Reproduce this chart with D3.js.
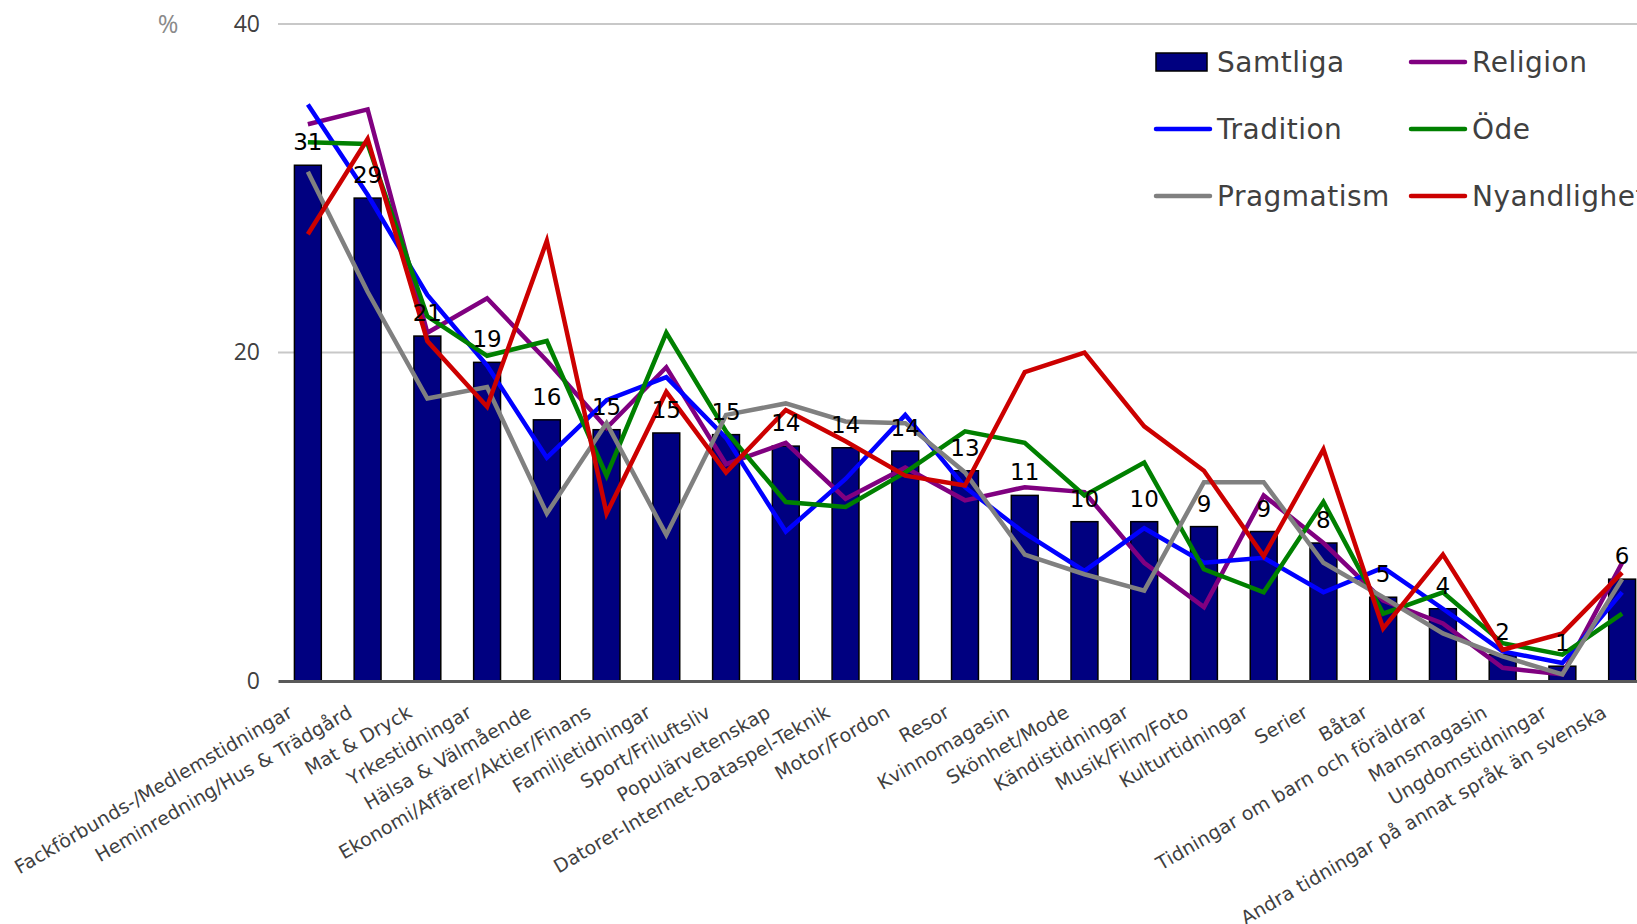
<!DOCTYPE html>
<html>
<head>
<meta charset="utf-8">
<script src="https://cdn.jsdelivr.net/npm/d3@7"></script>
<style>
  html, body { margin: 0; padding: 0; background: #fff; overflow: hidden; }
  svg { display: block; }
</style>
</head>
<body>
<div id="chart"></div>
<script>
// categories and series
var categories = [
  "Fackförbunds-/Medlemstidningar", "Heminredning/Hus & Trädgård", "Mat & Dryck",
  "Yrkestidningar", "Hälsa & Välmående", "Ekonomi/Affärer/Aktier/Finans",
  "Familjetidningar", "Sport/Friluftsliv", "Populärvetenskap",
  "Datorer-Internet-Dataspel-Teknik", "Motor/Fordon", "Resor", "Kvinnomagasin",
  "Skönhet/Mode", "Kändistidningar", "Musik/Film/Foto", "Kulturtidningar",
  "Serier", "Båtar", "Tidningar om barn och föräldrar", "Mansmagasin",
  "Ungdomstidningar", "Andra tidningar på annat språk än svenska"
];
var samtliga    = [31.4, 29.4, 21.0, 19.4, 15.9, 15.3, 15.1, 15.0, 14.3, 14.2, 14.0, 12.8, 11.3, 9.7, 9.7, 9.4, 9.1, 8.4, 5.1, 4.4, 1.6, 0.9, 6.2];
var religion    = [33.9, 34.8, 21.2, 23.3, 19.5, 15.4, 19.1, 13.2, 14.5, 11.1, 13.0, 11.0, 11.8, 11.5, 7.2, 4.5, 11.3, 8.4, 4.9, 3.5, 0.8, 0.4, 7.2];
var tradition   = [35.1, 29.6, 23.5, 19.2, 13.6, 17.1, 18.5, 14.8, 9.1, 12.3, 16.2, 11.8, 9.0, 6.7, 9.3, 7.2, 7.5, 5.4, 6.9, 4.4, 1.8, 1.1, 5.4];
var ode         = [32.8, 32.7, 22.2, 19.8, 20.7, 12.5, 21.2, 15.2, 10.9, 10.6, 12.7, 15.2, 14.5, 11.3, 13.3, 6.8, 5.4, 10.9, 4.1, 5.4, 2.3, 1.6, 4.1];
var pragmatism  = [31.0, 23.7, 17.2, 17.9, 10.2, 15.7, 8.9, 16.2, 16.9, 15.8, 15.7, 12.7, 7.7, 6.5, 5.5, 12.1, 12.1, 7.2, 5.1, 2.9, 1.5, 0.4, 6.2];
var nyandlighet = [27.2, 33.0, 20.7, 16.7, 26.8, 10.2, 17.6, 12.7, 16.5, 14.6, 12.5, 11.9, 18.8, 20.0, 15.5, 12.8, 7.6, 14.1, 3.2, 7.7, 1.9, 2.9, 6.6];
var yTicks = [0, 20, 40];

var lineSeries = [
  {name: "Religion", values: religion, color: "#800080"},
  {name: "Tradition", values: tradition, color: "#0000ff"},
  {name: "Öde", values: ode, color: "#008000"},
  {name: "Pragmatism", values: pragmatism, color: "#808080"},
  {name: "Nyandlighet", values: nyandlighet, color: "#cc0000"}
];

var width = 1637,
    height = 924,
    margin = {top: 24, left: 278};
var plotWidth = 1374,   // runs past the right edge, as in the original
    plotHeight = 657;
var font = "'DejaVu Sans', Verdana, sans-serif";

var svg = d3.select("#chart").append("svg")
    .attr("width", width)
    .attr("height", height)
    .style("font-family", font);

var g = svg.append("g")
    .attr("transform", "translate(" + margin.left + "," + margin.top + ")");

var x = d3.scaleBand()
    .domain(categories)
    .range([0, plotWidth])
    .paddingInner(0.55)
    .paddingOuter(0.275);

var y = d3.scaleLinear()
    .domain([0, 40])
    .range([plotHeight, 0]);

// gridlines
g.selectAll(".grid")
    .data(yTicks.filter(function(d) { return d > 0; }))
    .enter().append("line")
    .attr("x1", 0)
    .attr("x2", plotWidth)
    .attr("y1", function(d) { return y(d); })
    .attr("y2", function(d) { return y(d); })
    .attr("stroke", "#c8c8c8")
    .attr("stroke-width", 2);

// y axis labels
var yAxis = g.append("g")
    .call(d3.axisLeft(y).tickValues(yTicks).tickSize(0).tickPadding(18));
yAxis.select(".domain").remove();
yAxis.selectAll("text")
    .attr("fill", "#404040")
    .style("font-family", "'Open Sans', sans-serif")
    .style("font-size", "23px");

svg.append("text")
    .attr("x", 168)
    .attr("y", 24)
    .attr("dy", "0.35em")
    .attr("text-anchor", "middle")
    .attr("fill", "#8a8a8a")
    .style("font-family", "'Open Sans', sans-serif")
    .style("font-size", "25px")
    .text("%");

// bars
g.selectAll(".bar")
    .data(samtliga)
    .enter().append("rect")
    .attr("class", "bar")
    .attr("x", function(d, i) { return x(categories[i]); })
    .attr("y", function(d) { return y(d); })
    .attr("width", x.bandwidth())
    .attr("height", function(d) { return plotHeight - y(d); })
    .attr("fill", "#000080")
    .attr("stroke", "#000")
    .attr("stroke-width", 1.5);

// x axis
var xAxis = g.append("g")
    .attr("transform", "translate(0," + plotHeight + ")")
    .call(d3.axisBottom(x).tickSize(0).tickPadding(0));
xAxis.select(".domain")
    .attr("stroke", "#595959")
    .attr("stroke-width", 3);
xAxis.selectAll("text")
    .attr("text-anchor", "end")
    .attr("dy", null)
    .attr("y", null)
    .attr("transform", "translate(-14,35) rotate(-30)")
    .attr("fill", "#404040")
    .style("font-family", font)
    .style("font-size", "19px")
    .style("letter-spacing", "0.2px");

// lines
var line = d3.line()
    .x(function(d, i) { return x(categories[i]) + x.bandwidth() / 2; })
    .y(function(d) { return y(d); });

g.selectAll(".series")
    .data(lineSeries)
    .enter().append("path")
    .attr("class", "series")
    .attr("d", function(s) { return line(s.values); })
    .attr("fill", "none")
    .attr("stroke", function(s) { return s.color; })
    .attr("stroke-width", 4.5)
    .attr("stroke-linejoin", "miter");

// value labels above bars
g.selectAll(".label")
    .data(samtliga)
    .enter().append("text")
    .attr("class", "label")
    .attr("x", function(d, i) { return x(categories[i]) + x.bandwidth() / 2; })
    .attr("y", function(d) { return y(d) - 15; })
    .attr("text-anchor", "middle")
    .attr("fill", "#000")
    .style("font-size", "23px")
    .text(function(d) { return Math.round(d); });

// legend, 2 columns x 3 rows
var legendItems = [{name: "Samtliga", bar: true}].concat(lineSeries);
var legend = svg.append("g");
var item = legend.selectAll(".item")
    .data(legendItems)
    .enter().append("g")
    .attr("transform", function(d, i) {
        var col = i % 2, row = Math.floor(i / 2);
        return "translate(" + (1156 + col * 255) + "," + (62 + row * 67) + ")";
    });

item.filter(function(d) { return d.bar; })
    .append("rect")
    .attr("x", 0)
    .attr("y", -9)
    .attr("width", 51)
    .attr("height", 18)
    .attr("fill", "#000080")
    .attr("stroke", "#000")
    .attr("stroke-width", 1.5);

item.filter(function(d) { return !d.bar; })
    .append("line")
    .attr("x1", 0)
    .attr("x2", 54)
    .attr("stroke", function(d) { return d.color; })
    .attr("stroke-width", 4.5)
    .attr("stroke-linecap", "round");

item.append("text")
    .attr("x", 61)
    .attr("y", 0)
    .attr("dy", "0.36em")
    .attr("fill", "#404040")
    .style("font-size", "28px")
    .style("letter-spacing", "0.5px")
    .text(function(d) { return d.name; });
</script>
</body>
</html>
